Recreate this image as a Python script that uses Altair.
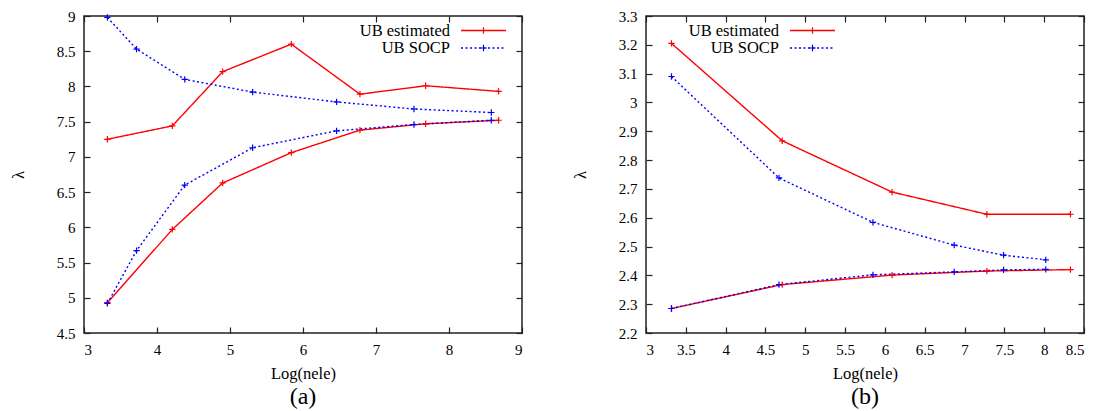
import altair as alt
import pandas as pd

# ---------------- data ----------------
series_names = ["UB estimated", "UB SOCP"]
series_colors = ["#ff0000", "#0000ff"]

# panel (a)
a_est_x = [3.32, 4.21, 4.90, 5.84, 6.78, 7.68, 8.68]
a_est_up_y = [7.25, 7.44, 8.21, 8.60, 7.89, 8.01, 7.93]
a_est_lo_y = [4.93, 5.97, 6.63, 7.06, 7.38, 7.47, 7.52]
a_socp_x = [3.32, 3.72, 4.38, 5.31, 6.46, 7.52, 8.58]
a_socp_up_y = [8.98, 8.53, 8.10, 7.92, 7.78, 7.68, 7.63]
a_socp_lo_y = [4.92, 5.67, 6.60, 7.13, 7.37, 7.46, 7.52]

# panel (b)
b_est_x = [3.32, 4.71, 6.09, 7.28, 8.33]
b_est_up_y = [3.205, 2.867, 2.689, 2.612, 2.612]
b_est_lo_y = [2.285, 2.368, 2.401, 2.415, 2.420]
b_socp_x = [3.32, 4.67, 5.85, 6.87, 7.49, 8.02]
b_socp_up_y = [3.090, 2.738, 2.584, 2.505, 2.470, 2.454]
b_socp_lo_y = [2.285, 2.368, 2.402, 2.412, 2.419, 2.421]

# axes
a_xticks = [3, 4, 5, 6, 7, 8, 9]
a_yticks = [4.5, 5, 5.5, 6, 6.5, 7, 7.5, 8, 8.5, 9]
b_xticks = [3, 3.5, 4, 4.5, 5, 5.5, 6, 6.5, 7, 7.5, 8, 8.5]
b_yticks = [2.2, 2.3, 2.4, 2.5, 2.6, 2.7, 2.8, 2.9, 3, 3.1, 3.2, 3.3]
x_title = "Log(nele)"
y_title = "λ"
panel_titles = ["(a)", "(b)"]

W, H = 438, 317
FONT = "Liberation Serif"
PLUS = "M-1,0L1,0M0,-1L0,1"


def frame(curves):
    rows = []
    for name, method, xs, ys in curves:
        for x, y in zip(xs, ys):
            rows.append({"curve": name, "method": method, "x": x, "y": y})
    return pd.DataFrame(rows)


def panel(df, xdom, ydom, xticks, yticks, title, leg_text_x, leg_line_x0, leg_line_x1):
    xs = alt.Scale(domain=xdom, nice=False, zero=False)
    ys = alt.Scale(domain=ydom, nice=False, zero=False)
    color = alt.Color("method:N", scale=alt.Scale(domain=series_names, range=series_colors), legend=None)
    dash = alt.StrokeDash("method:N", scale=alt.Scale(domain=series_names, range=[[1, 0], [2, 2.5]]), legend=None)

    lab = dict(labelFont=FONT, labelFontSize=15, labelColor="#000",
               titleFont=FONT, titleFontSize=16.5, titleFontWeight="normal", titleColor="#000")
    main_x = alt.Axis(values=xticks, format="~g", ticks=False, domain=False, grid=False,
                      title=x_title, labelPadding=9, titlePadding=8, **lab)
    main_y = alt.Axis(values=yticks, format="~g", ticks=False, domain=False, grid=False,
                      title=y_title, labelPadding=9, titlePadding=30, **lab)

    def tick_axis(orient, values, offset):
        return alt.Axis(orient=orient, values=values, labels=False, ticks=True, tickSize=6,
                        tickColor="#222", tickWidth=1.2, domain=False, grid=False, title=None,
                        offset=offset)

    base = alt.Chart(df)
    lines = base.mark_line(strokeWidth=1.4).encode(
        x=alt.X("x:Q", scale=xs, axis=main_x),
        y=alt.Y("y:Q", scale=ys, axis=main_y),
        color=color, strokeDash=dash, detail="curve:N")
    pts = base.mark_point(shape=PLUS, size=40, filled=False, strokeWidth=1.2, opacity=1).encode(
        x=alt.X("x:Q", scale=xs, axis=tick_axis("top", xticks, -H)),
        y=alt.Y("y:Q", scale=ys, axis=tick_axis("right", yticks, -W)),
        color=color)
    ghost = base.mark_point(opacity=0).encode(
        x=alt.X("x:Q", scale=xs, axis=tick_axis("bottom", xticks, -H)),
        y=alt.Y("y:Q", scale=ys, axis=tick_axis("left", yticks, -W)))

    legend_layers = []
    for i, (name, col) in enumerate(zip(series_names, series_colors)):
        yy = 14.5 + 17.5 * i
        ldf = pd.DataFrame({"label": [name]})
        lb = alt.Chart(ldf)
        legend_layers.append(lb.mark_text(align="right", baseline="middle", font=FONT, fontSize=16.5,
                                          color="#000").encode(
            text="label:N", x=alt.value(leg_text_x), y=alt.value(yy)))
        legend_layers.append(lb.mark_rule(color=col, strokeWidth=1.4,
                                          strokeDash=[1, 0] if i == 0 else [2, 2.5]).encode(
            x=alt.value(leg_line_x0), x2=alt.value(leg_line_x1), y=alt.value(yy)))
        legend_layers.append(lb.mark_point(shape=PLUS, size=40, filled=False, strokeWidth=1.2,
                                           color=col, opacity=1).encode(
            x=alt.value((leg_line_x0 + leg_line_x1) / 2), y=alt.value(yy)))

    return alt.layer(lines, pts, ghost, *legend_layers).resolve_axis(
        x="independent", y="independent").properties(
        width=W, height=H,
        title=alt.TitleParams(title, orient="bottom", font=FONT, fontSize=24, fontWeight="normal",
                              offset=3, color="#000"))


df_a = frame([("a1", series_names[0], a_est_x, a_est_up_y),
              ("a2", series_names[0], a_est_x, a_est_lo_y),
              ("a3", series_names[1], a_socp_x, a_socp_up_y),
              ("a4", series_names[1], a_socp_x, a_socp_lo_y)])
df_b = frame([("b1", series_names[0], b_est_x, b_est_up_y),
              ("b2", series_names[0], b_est_x, b_est_lo_y),
              ("b3", series_names[1], b_socp_x, b_socp_up_y),
              ("b4", series_names[1], b_socp_x, b_socp_lo_y)])

pa = panel(df_a, [3, 9], [4.5, 9], a_xticks, a_yticks, panel_titles[0], 366, 377, 422)
pb = panel(df_b, [3, 8.5], [2.2, 3.3], b_xticks, b_yticks, panel_titles[1], 133, 144, 189)

chart = alt.hconcat(pa, pb, spacing=47).properties(
    padding={"left": 1, "top": 0, "right": 5, "bottom": 0}, background="white"
).configure_view(stroke="#222", strokeWidth=1.5)

chart.save("out.html", embed_options={"renderer": "svg", "actions": False})
